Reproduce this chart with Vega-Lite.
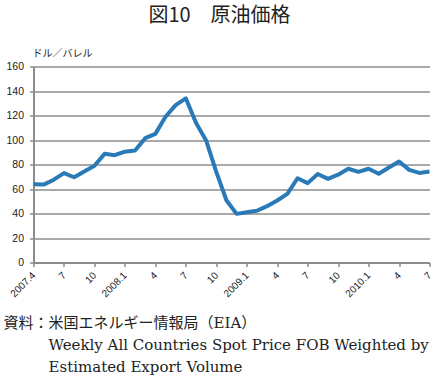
{
  "$schema": "https://vega.github.io/schema/vega-lite/v6.json",
  "autosize": {"type": "none"},
  "width": 396,
  "height": 196,
  "padding": {"left": 33.5, "top": 66.5, "right": 9.5, "bottom": 112.5},
  "background": "white",
  "title": {
    "text": "図10　原油価格",
    "font": "Noto Sans CJK JP",
    "fontSize": 20,
    "fontWeight": "normal",
    "color": "#222222",
    "anchor": "middle",
    "dx": -12,
    "offset": 23
  },
  "data": {
    "values": [
      {"month": "2007.4", "price": 63.8},
      {"month": "2007.5", "price": 63.6},
      {"month": "2007.6", "price": 67.6},
      {"month": "2007.7", "price": 73.0},
      {"month": "2007.8", "price": 69.6},
      {"month": "2007.9", "price": 74.3},
      {"month": "2007.10", "price": 79.0},
      {"month": "2007.11", "price": 88.7},
      {"month": "2007.12", "price": 87.6},
      {"month": "2008.1", "price": 90.5},
      {"month": "2008.2", "price": 91.4},
      {"month": "2008.3", "price": 101.5},
      {"month": "2008.4", "price": 105},
      {"month": "2008.5", "price": 119},
      {"month": "2008.6", "price": 128.5},
      {"month": "2008.7", "price": 134},
      {"month": "2008.8", "price": 114},
      {"month": "2008.9", "price": 99.6},
      {"month": "2008.10", "price": 74},
      {"month": "2008.11", "price": 50.8},
      {"month": "2008.12", "price": 39.7},
      {"month": "2009.1", "price": 41},
      {"month": "2009.2", "price": 42.2},
      {"month": "2009.3", "price": 46},
      {"month": "2009.4", "price": 50.6},
      {"month": "2009.5", "price": 56},
      {"month": "2009.6", "price": 68.8},
      {"month": "2009.7", "price": 64.8},
      {"month": "2009.8", "price": 72.2},
      {"month": "2009.9", "price": 68.3},
      {"month": "2009.10", "price": 71.7},
      {"month": "2009.11", "price": 76.5},
      {"month": "2009.12", "price": 74},
      {"month": "2010.1", "price": 76.5},
      {"month": "2010.2", "price": 72.4},
      {"month": "2010.3", "price": 77.5},
      {"month": "2010.4", "price": 82.4},
      {"month": "2010.5", "price": 75.6},
      {"month": "2010.6", "price": 73.1},
      {"month": "2010.7", "price": 74.3}
    ]
  },
  "mark": {"type": "line", "color": "#2a7ab8", "strokeWidth": 4, "strokeJoin": "round"},
  "encoding": {
    "x": {
      "field": "month",
      "type": "ordinal",
      "sort": null,
      "scale": {"type": "point", "padding": 0},
      "axis": {
        "values": ["2007.4", "2007.7", "2007.10", "2008.1", "2008.4", "2008.7", "2008.10", "2009.1", "2009.4", "2009.7", "2009.10", "2010.1", "2010.4", "2010.7"],
        "labelExpr": "(split(datum.value, '.')[1] == '1' || datum.value == '2007.4') ? datum.value : split(datum.value, '.')[1]",
        "labelAngle": -45,
        "labelAlign": "right",
        "labelBaseline": "middle",
        "labelFont": "Liberation Sans",
        "labelFontSize": 10,
        "labelColor": "#222222",
        "labelPadding": 7,
        "domainColor": "#8c8c8c",
        "domainWidth": 2,
        "tickColor": "#8c8c8c",
        "tickWidth": 1.5,
        "tickSize": 4,
        "grid": false,
        "title": ["資料：米国エネルギー情報局（EIA）", "\u200b\u3000\u3000\u3000Weekly All Countries Spot Price FOB Weighted by", "\u200b\u3000\u3000\u3000Estimated Export Volume"],
        "titleFont": "DejaVu Serif, Noto Sans CJK JP",
        "titleFontSize": 15,
        "titleFontWeight": "normal",
        "titleColor": "#222222",
        "titleAlign": "left",
        "titleAnchor": "start",
        "titleBaseline": "alphabetic",
        "titleLineHeight": 22,
        "titleX": -30.5,
        "titleY": 64.5
      }
    },
    "y": {
      "field": "price",
      "type": "quantitative",
      "scale": {"domain": [0, 160], "nice": false},
      "axis": {
        "values": [0, 20, 40, 60, 80, 100, 120, 140, 160],
        "labelFont": "Liberation Sans",
        "labelFontSize": 10.5,
        "labelColor": "#222222",
        "labelPadding": 6,
        "tickSize": 4,
        "tickColor": "#8c8c8c",
        "tickWidth": 1.5,
        "domainColor": "#8c8c8c",
        "domainWidth": 2,
        "gridColor": "#8c8c8c",
        "gridWidth": 1.5,
        "title": "ドル／バレル",
        "titleFont": "Noto Sans CJK JP",
        "titleFontSize": 10,
        "titleFontWeight": "normal",
        "titleColor": "#222222",
        "titleAngle": 0,
        "titleAlign": "left",
        "titleBaseline": "alphabetic",
        "titleX": -1.5,
        "titleY": -10
      }
    }
  },
  "config": {"view": {"stroke": null}}
}
